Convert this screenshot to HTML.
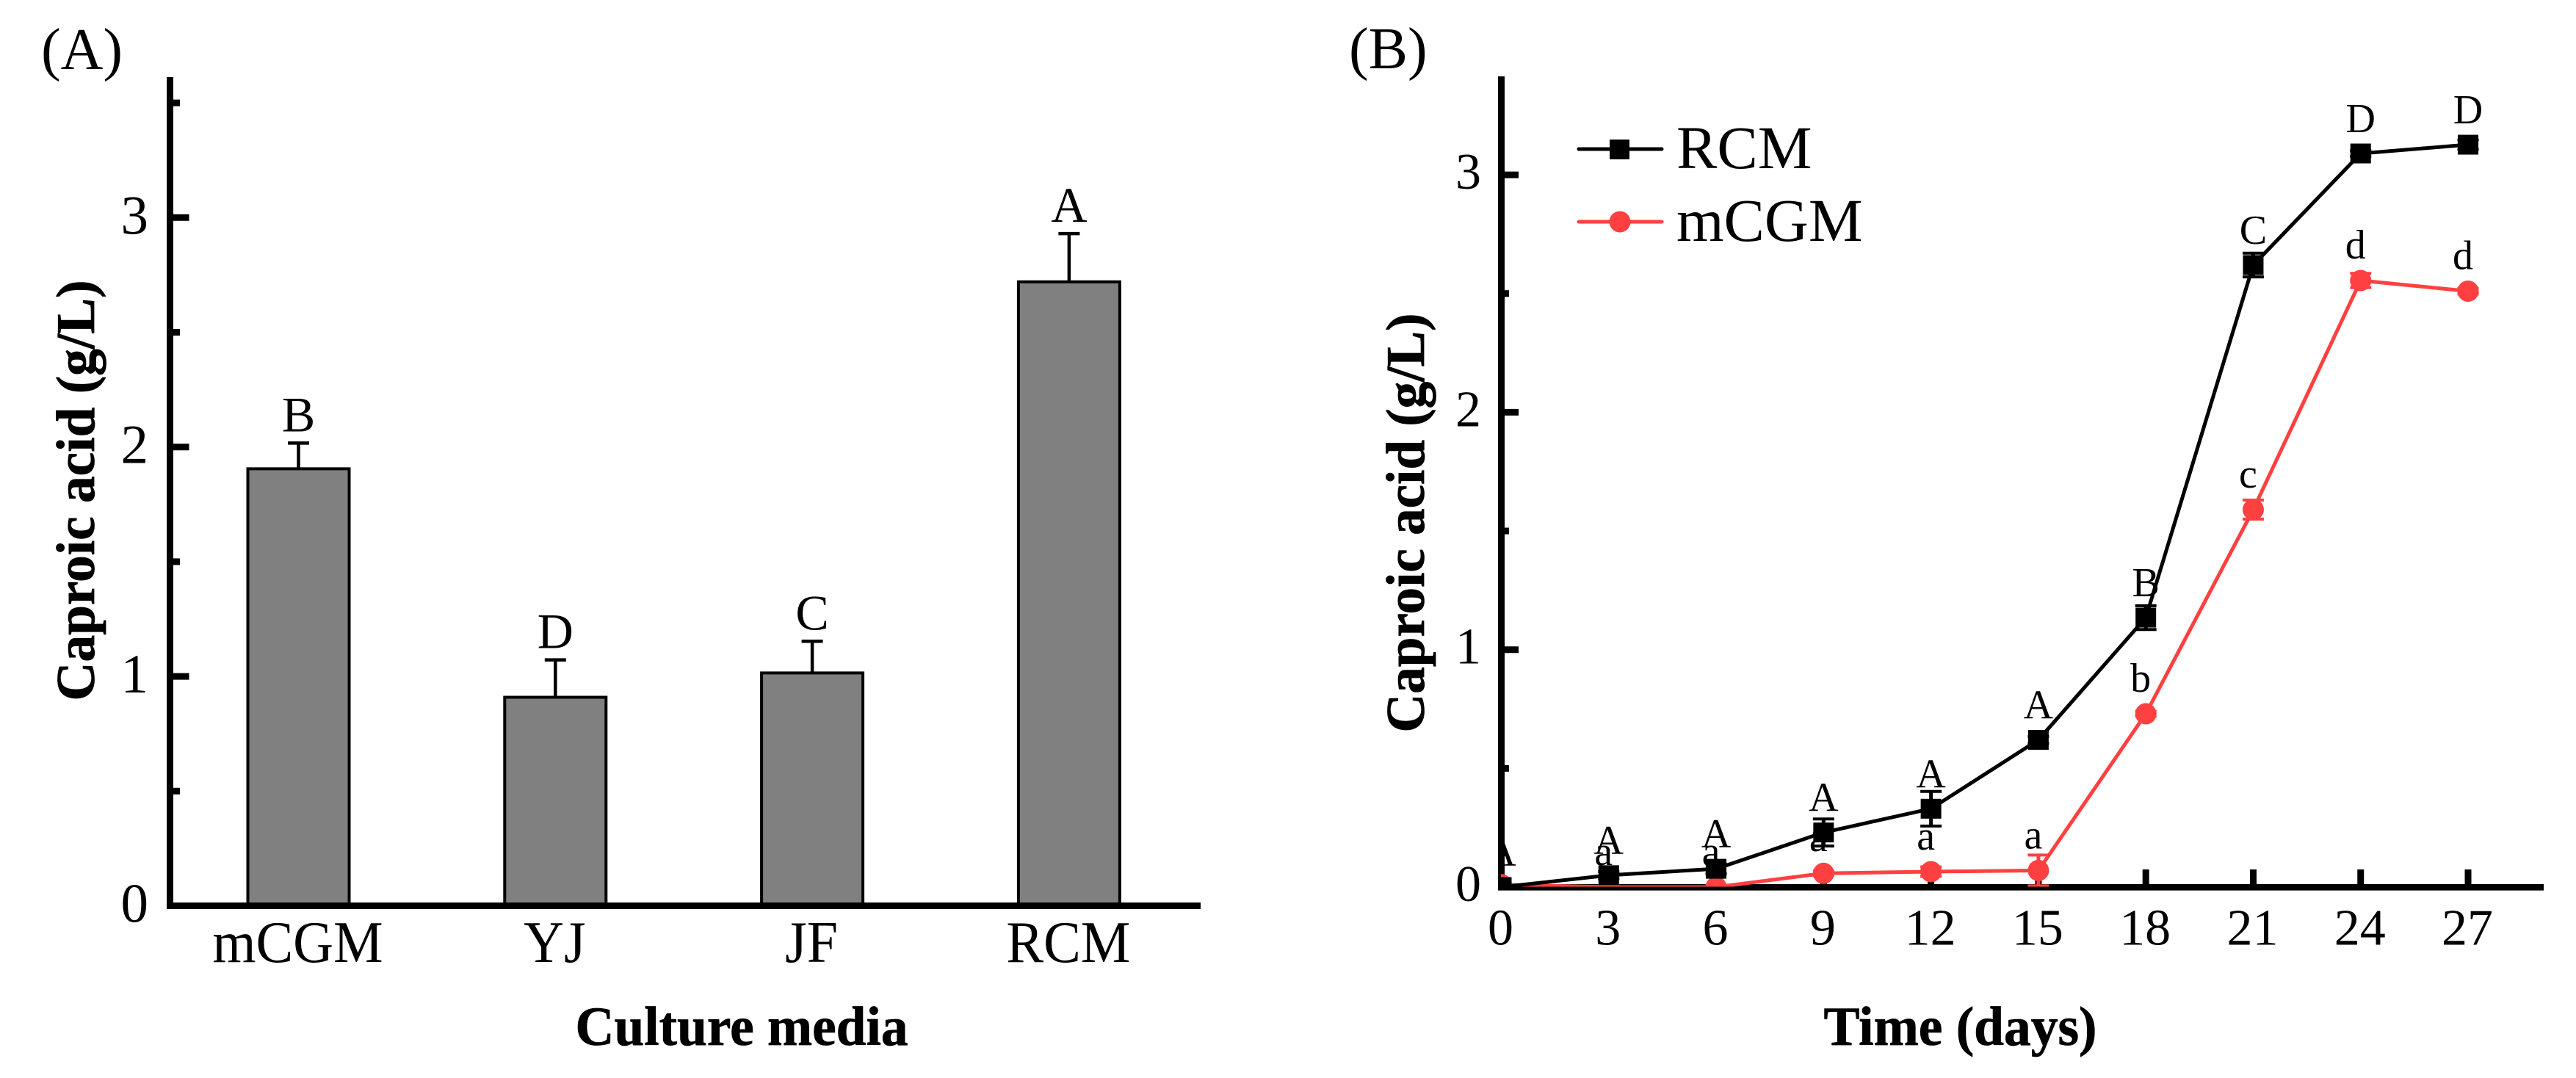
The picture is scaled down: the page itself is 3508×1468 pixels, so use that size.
<!DOCTYPE html>
<html lang="en">
<head>
<meta charset="utf-8">
<title>Caproic acid production by culture media and over time</title>
<style>
  html, body { margin: 0; padding: 0; background: #ffffff; }
  svg { display: block; }
  text { font-family: "Liberation Serif", "Times New Roman", serif; fill: #000000; }
  .bold { font-weight: bold; }
</style>
</head>
<body>
<svg id="figure" xmlns="http://www.w3.org/2000/svg" width="3508" height="1468" viewBox="0 0 3508 1468">
  <rect x="0" y="0" width="3508" height="1468" fill="#ffffff"/>
  <defs>
    <clipPath id="seriesClip"><rect x="2044" y="60" width="1440" height="1147.5"/></clipPath>
  </defs>

  <g id="panelA">
    <text x="56" y="94" font-size="80">(A)</text>
    <text class="bold" font-size="74" text-anchor="middle" transform="translate(128 668) rotate(-90)" textLength="573" lengthAdjust="spacingAndGlyphs" stroke="#000" stroke-width="0.8">Caproic acid (g/L)</text>
    <text class="bold" font-size="75" text-anchor="middle" x="1010" y="1423" textLength="453" lengthAdjust="spacingAndGlyphs" stroke="#000" stroke-width="0.8">Culture media</text>
  </g>

  <g id="panelB">
    <text x="1837" y="93" font-size="80">(B)</text>
    <text class="bold" font-size="74" text-anchor="middle" transform="translate(1939 712) rotate(-90)" textLength="571" lengthAdjust="spacingAndGlyphs" stroke="#000" stroke-width="0.8">Caproic acid (g/L)</text>
    <text class="bold" font-size="75" text-anchor="middle" x="2669.5" y="1423" textLength="372" lengthAdjust="spacingAndGlyphs" stroke="#000" stroke-width="0.8">Time (days)</text>

    <g>
      <g>
        <line x1="2150" y1="203" x2="2263" y2="203" stroke="#000000" stroke-width="5" stroke-linecap="round"/>
        <rect x="2192" y="190" width="27" height="27" fill="#000000"/>
        <text x="2283" y="229" font-size="83">RCM</text>
      </g>
      <g>
        <line x1="2150" y1="302" x2="2263" y2="302" stroke="#ff4040" stroke-width="5" stroke-linecap="round"/>
        <circle cx="2206" cy="302" r="14.5" fill="#ff4040"/>
        <text x="2283" y="328" font-size="83">mCGM</text>
      </g>
    </g>
  </g>
</svg>

<script>
// ---- Panel A data ----
const mediaCategories = ["mCGM", "YJ", "JF", "RCM"];
const mediaValues = [1.905, 0.909, 1.015, 2.72];
const mediaErrors = [0.112, 0.163, 0.138, 0.21];
const mediaLetters = ["B", "D", "C", "A"];
const mediaMajorTicks = [0, 1, 2, 3];
const mediaMinorTicks = [0.5, 1.5, 2.5, 3.5];

// ---- Panel B data ----
const dayTicks = [0, 3, 6, 9, 12, 15, 18, 21, 24, 27];
const rcmValues = [0, 0.05, 0.077, 0.23, 0.33, 0.62, 1.135, 2.62, 3.09, 3.127];
const rcmErrors = [0, 0.015, 0.02, 0.057, 0.073, 0.015, 0.05, 0.05, 0.012, 0.02];
const rcmLetters = ["A", "A", "A", "A", "A", "A", "B", "C", "D", "D"];
const mcgmValues = [0.01, 0, 0, 0.058, 0.065, 0.07, 0.73, 1.59, 2.555, 2.51];
const mcgmErrors = [0, 0.005, 0.005, 0.01, 0.02, 0.065, 0.01, 0.04, 0.03, 0.012];
const mcgmLetters = ["", "a", "a", "a", "a", "a", "b", "c", "d", "d"];
const timeMajorTicks = [0, 1, 2, 3];
const timeMinorTicks = [0.5, 1.5, 2.5];

// ---- Axis functions ----
const xMedia = i => 406.5 + i * 349.8;
const yMedia = v => 1233.5 - v * 312.4;
const xDay = d => 2044.5 + d * 48.76;
const yTime = v => 1208 - v * 323.3;

const NS = "http://www.w3.org/2000/svg";
const panelA = document.getElementById("panelA");
const panelB = document.getElementById("panelB");

function mk(parent, tag, attrs, content) {
  const el = document.createElementNS(NS, tag);
  for (const k in attrs) el.setAttribute(k, attrs[k]);
  if (content !== undefined) el.textContent = content;
  parent.appendChild(el);
  return el;
}

// ---- Panel A: bars ----
mediaCategories.forEach((cat, i) => {
  const top = yMedia(mediaValues[i]);
  const errTop = yMedia(mediaValues[i] + mediaErrors[i]);
  const cx = xMedia(i);

  const stem = mk(panelA, "line", { x1: cx, y1: top, x2: cx, y2: errTop, stroke: "#000", "stroke-width": 4.5 });
  
  

  const cap = mk(panelA, "line", { x1: cx - 14.5, y1: errTop, x2: cx + 14.5, y2: errTop, stroke: "#000", "stroke-width": 4.5 });
  
  

  const bar = mk(panelA, "rect", { x: cx - 69, y: top, width: 138, height: yMedia(0) - top, fill: "#808080", stroke: "#000", "stroke-width": 4 });
  
  

  const letter = mk(panelA, "text", { x: cx, y: errTop - 16, "font-size": 68, "text-anchor": "middle" }, mediaLetters[i]);
  
  

  const tickLabel = mk(panelA, "text", { x: cx - 1, y: 1310, "font-size": 80, "text-anchor": "middle" }, cat);
  
  
  tickLabel.setAttribute('lengthAdjust', 'spacingAndGlyphs');
  tickLabel.setAttribute('textLength', tickLabel.getComputedTextLength() * 0.95);
});

// ---- Panel A: axes ----
const axisAY = mk(panelA, "line", { x1: 231.5, y1: 105, x2: 231.5, y2: 1238, stroke: "#000", "stroke-width": 9 });



const axisAX = mk(panelA, "line", { x1: 227, y1: 1233.5, x2: 1635, y2: 1233.5, stroke: "#000", "stroke-width": 9 });



mediaMajorTicks.forEach(v => {
  const t = mk(panelA, "line", { x1: 232, y1: yMedia(v), x2: 257.5, y2: yMedia(v), stroke: "#000", "stroke-width": 9 });
  
  
  const l = mk(panelA, "text", { x: 202, y: yMedia(v) + 22, "font-size": 75, "text-anchor": "end" }, String(v));
  
  
});
mediaMinorTicks.forEach(v => {
  const t = mk(panelA, "line", { x1: 232, y1: yMedia(v), x2: 245, y2: yMedia(v), stroke: "#000", "stroke-width": 9 });
  
  
});

// ---- Panel B: axes ----
const axisBY = mk(panelB, "line", { x1: 2044.5, y1: 104, x2: 2044.5, y2: 1212.5, stroke: "#000", "stroke-width": 9 });



const axisBX = mk(panelB, "line", { x1: 2040, y1: 1208.3, x2: 3464, y2: 1208.3, stroke: "#000", "stroke-width": 8.7 });



timeMajorTicks.forEach(v => {
  const t = mk(panelB, "line", { x1: 2044.5, y1: yTime(v), x2: 2068, y2: yTime(v), stroke: "#000", "stroke-width": 9 });
  
  
  const l = mk(panelB, "text", { x: 2017, y: yTime(v) + 19, "font-size": 70, "text-anchor": "end" }, String(v));
  
  
});
timeMinorTicks.forEach(v => {
  const t = mk(panelB, "line", { x1: 2044.5, y1: yTime(v), x2: 2055, y2: yTime(v), stroke: "#000", "stroke-width": 9 });
  
  
});
dayTicks.forEach(d => {
  const t = mk(panelB, "line", { x1: xDay(d), y1: 1208, x2: xDay(d), y2: 1184, stroke: "#000", "stroke-width": 9 });
  
  
  const l = mk(panelB, "text", { x: xDay(d) - 1, y: 1286.5, "font-size": 70, "text-anchor": "middle" }, String(d));
  
  
});

// ---- Panel B: series ----
const seriesGroup = mk(panelB, "g", { "clip-path": "url(#seriesClip)" });



function drawSeries(name, values, errors, letters, color, shape, letterShift, letterLift) {
  const linePoints = values.map((v, i) => xDay(dayTicks[i]) + "," + yTime(v)).join(" ");

  // letters sit behind the markers
  letters.forEach((txt, i) => {
    if (!txt) return;
    const l = mk(seriesGroup, "text", { x: xDay(dayTicks[i]) + letterShift, y: yTime(values[i]) - letterLift, "font-size": 56, "text-anchor": "middle" }, txt);
    
    
  });

  const line = mk(seriesGroup, "polyline", { points: linePoints, fill: "none", stroke: color, "stroke-width": 5 });
  
  

  values.forEach((v, i) => {
    const cx = xDay(dayTicks[i]);
    const hi = yTime(v + errors[i]);
    const lo = yTime(v - errors[i]);

    const stem = mk(seriesGroup, "line", { x1: cx, y1: hi, x2: cx, y2: lo, stroke: color, "stroke-width": 5 });
    
    

    const capHi = mk(seriesGroup, "line", { x1: cx - 14.5, y1: hi, x2: cx + 14.5, y2: hi, stroke: color, "stroke-width": 4 });
    
    

    const capLo = mk(seriesGroup, "line", { x1: cx - 14.5, y1: lo, x2: cx + 14.5, y2: lo, stroke: color, "stroke-width": 4 });
    
    

    const marker = shape === "square"
      ? mk(seriesGroup, "rect", { x: cx - 14, y: yTime(v) - 13.5, width: 28, height: 27, fill: color })
      : mk(seriesGroup, "circle", { cx: cx, cy: yTime(v), r: 14.5, fill: color });
    
    
  });
}

drawSeries("mcgm", mcgmValues, mcgmErrors, mcgmLetters, "#ff4040", "circle", -7, 30);
drawSeries("rcm", rcmValues, rcmErrors, rcmLetters, "#000000", "square", 0, 29);
</script>
</body>
</html>
